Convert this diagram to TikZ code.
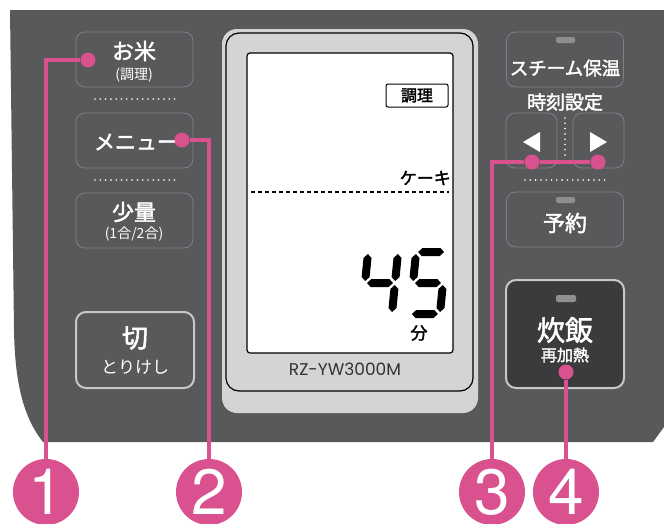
\documentclass[tikz,border=0pt]{standalone}
\usepackage{fontspec}
\newfontfamily\jpfont{Noto Sans CJK JP}
\newfontfamily\jpmid{Noto Sans CJK JP}[FakeBold=2]
\newfontfamily\numfont{TeX Gyre Heros}
\newfontfamily\modelfont{Poppins}
\definecolor{panelgray}{RGB}{88,89,91}
\definecolor{keygray}{RGB}{128,129,132}
\definecolor{rimgray}{RGB}{200,200,202}
\definecolor{cookgray}{RGB}{59,59,61}
\definecolor{lcdgray}{RGB}{211,212,214}
\definecolor{lampgray}{RGB}{142,143,145}
\definecolor{markpink}{RGB}{217,82,143}
\newcommand{\hseg}[3]{\fill (#1,#3) -- ({#1+4},{#3-4}) -- ({#2-4},{#3-4}) -- (#2,#3) -- ({#2-4},{#3+4}) -- ({#1+4},{#3+4}) -- cycle;}
\newcommand{\vseg}[3]{\fill (#1,#2) -- ({#1+4},{#2+4}) -- ({#1+4},{#3-4}) -- (#1,#3) -- ({#1-4},{#3-4}) -- ({#1-4},{#2+4}) -- cycle;}

\begin{document}
\begin{tikzpicture}[x=1pt,y=-1pt,
  key/.style={draw=keygray, line width=0.8pt, rounded corners=9pt, fill=panelgray, minimum width=117, minimum height=55},
  arrowkey/.style={draw=keygray, line width=0.8pt, rounded corners=9pt, minimum width=51, minimum height=55},
  bigkey/.style={draw=rimgray, line width=2pt, rounded corners=10pt, minimum width=118},
  lamp/.style={fill=lampgray, rounded corners=2pt},
  keytext/.style={text=white, inner sep=0pt, font=\jpfont\fontsize{#1}{#1}\selectfont},
  keybold/.style={text=white, inner sep=0pt, font=\jpmid\fontsize{#1}{#1}\selectfont},
  lcdtext/.style={text=black, inner sep=0pt, font=\jpmid\fontsize{#1}{#1}\selectfont},
  dotrow/.style={white, line width=1.8pt, dash pattern=on 0pt off 5.3pt, line cap=round},
  pinkdot/.style={circle, fill=markpink, minimum size=15, inner sep=0pt},
  pinkline/.style={draw=markpink, line width=4.5pt},
  numdisc/.style={circle, fill=markpink, text=white, minimum size=66, inner sep=0pt, font=\numfont\fontsize{64}{64}\selectfont}]
\useasboundingbox (0,0) rectangle (664,523);
\fill[panelgray] (10,10) -- (664,10) -- (664,427) -- (653,442) -- (43,442) .. controls (24,418) and (15,385) .. (14,330) -- cycle;

\node[key] (rice) at (134.5,59.5) {};
\node[key] (menu) at (134.5,140.5) {};
\node[key] (small) at (134.5,220.5) {};
\node[bigkey, fill=panelgray, minimum height=76] (cancel) at (135,350) {};
\draw[dotrow] (95,99) -- (175,99);
\draw[dotrow] (95,180) -- (175,180);
\node[keybold=22] (ricet) at (134,51) {お米};
\node[keytext=14] (ricesub) at (134,75) {(調理)};
\node[keybold=21] (menut) at (136,142) {メニュー};
\node[keybold=22] (smallt) at (134,212) {少量};
\node[keytext=14] (smallsub) at (134,234) {(1合/2合)};
\node[keybold=26] (cancelt) at (135,338) {切};
\node[keytext=17] (cancelsub) at (135,367) {とりけし};

\fill[lcdgray, rounded corners=15pt] (222,29) rectangle (478,413);
\draw[line width=1.2pt, rounded corners=13pt] (226,33) rectangle (473,391);
\node[draw, line width=1.2pt, fill=white, rounded corners=3pt, minimum width=206, minimum height=300] (lcd) at (350,203) {};
\node[lcdtext=16, draw, line width=1pt, rounded corners=2pt, minimum width=62, minimum height=23] (modetag) at (417,95.5) {調理};
\node[lcdtext=17, anchor=east] (cake) at (451,178) {ケーキ};
\draw[line width=1.5pt, dash pattern=on 4pt off 3pt] (251,192) -- (449,192);
\begin{scope}[shift={(404,283)}, xslant=0.1]
\vseg{-39}{-29}{-2} \vseg{-9}{-29}{-2} \vseg{-9}{2}{29} \hseg{-37}{-11}{0}
\hseg{11}{37}{-31} \vseg{9}{-29}{-2} \hseg{11}{37}{0} \vseg{39}{2}{29} \hseg{11}{37}{31}
\end{scope}
\node[lcdtext=17] (minute) at (419,333) {分};
\node[inner sep=0pt, text=black!80, font=\modelfont\fontsize{17}{17}\selectfont] (model) at (345,369) {RZ-YW3000M};

\node[key] (steam) at (565,59.5) {};
\fill[lamp] (556,37) rectangle (575,43);
\node[keybold=18.5] (steamt) at (565,68) {スチーム保温};
\node[keybold=19] (clock) at (565,102) {時刻設定};
\node[arrowkey] (back) at (531.5,140.5) {};
\node[arrowkey] (fwd) at (598.5,140.5) {};
\fill[white] (523,142) -- (540,132) -- (540,152) -- cycle;
\fill[white] (607,142) -- (590,132) -- (590,152) -- cycle;
\draw[dotrow] (565,118) -- (565,157);
\draw[dotrow] (525,180) -- (605,180);
\node[key] (timer) at (565,219.5) {};
\fill[lamp] (556,197) rectangle (575,203);
\node[keybold=22] (timert) at (565,223) {予約};
\node[bigkey, fill=cookgray, minimum height=108] (cook) at (565,334) {};
\fill[lamp] (556,295) rectangle (576,302);
\node[keybold=28] (cookt) at (565,330) {炊飯};
\node[keybold=16] (cooksub) at (565,355) {再加熱};

\node[pinkdot] (d1) at (88,60) {};
\node[pinkdot] (d2) at (182,140) {};
\node[pinkdot] (d3a) at (532,162) {};
\node[pinkdot] (d3b) at (598,162) {};
\node[pinkdot] (d4) at (566,372) {};
\node[numdisc] (n1) at (46,492) {1};
\node[numdisc] (n2) at (209,492) {2};
\node[numdisc] (n3) at (492,492) {3};
\node[numdisc] (n4) at (566,492) {4};
\path[pinkline] (d1) -| (n1);
\path[pinkline] (d2) -| (n2);
\path[pinkline] (d3b) -- (d3a) -| (n3);
\path[pinkline] (d4) -- (n4);
\end{tikzpicture}
\end{document}
